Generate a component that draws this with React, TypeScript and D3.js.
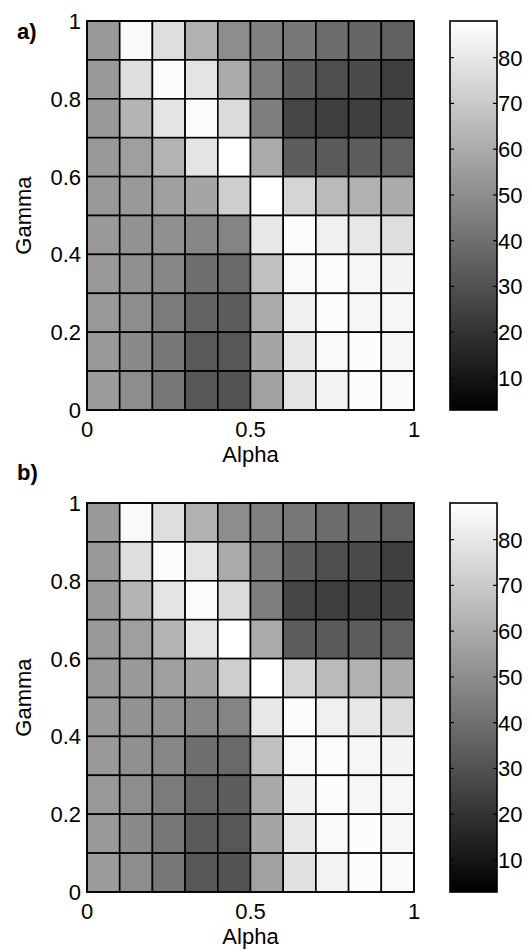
import React from "react";
import * as d3 from "d3";

// Bin left edges on both axes
const alphaBins = [0, 0.1, 0.2, 0.3, 0.4, 0.5, 0.6, 0.7, 0.8, 0.9];
const gammaBinsTopDown = [0.9, 0.8, 0.7, 0.6, 0.5, 0.4, 0.3, 0.2, 0.1, 0];

// Panel a) values, rows from gamma 0.9–1 (top) down to 0–0.1 (bottom)
const valuesA = [
  [54, 86, 77, 62, 50, 46, 43, 39, 37, 35],
  [54, 77, 87, 79, 60, 45, 34, 29, 28, 24],
  [54, 63, 79, 87, 76, 45, 26, 24, 24, 25],
  [54, 56, 63, 79, 88, 60, 34, 33, 34, 35],
  [54, 54, 56, 58, 72, 88, 74, 65, 62, 60],
  [54, 52, 51, 48, 47, 80, 87, 83, 80, 77],
  [54, 51, 48, 40, 38, 67, 86, 87, 85, 84],
  [54, 50, 44, 36, 34, 60, 83, 87, 85, 85],
  [54, 49, 43, 33, 32, 58, 80, 86, 87, 85],
  [55, 50, 43, 32, 31, 57, 79, 84, 87, 86],
];

// Panel b) values
const valuesB = [
  [54, 86, 77, 62, 50, 46, 43, 39, 37, 35],
  [54, 77, 87, 79, 60, 45, 34, 29, 28, 24],
  [54, 63, 79, 87, 76, 45, 26, 24, 24, 25],
  [54, 56, 63, 79, 88, 60, 34, 33, 34, 35],
  [54, 54, 56, 58, 72, 88, 74, 65, 62, 60],
  [54, 52, 51, 48, 47, 80, 87, 83, 80, 76],
  [54, 51, 48, 40, 38, 67, 86, 87, 85, 84],
  [54, 50, 44, 36, 34, 59, 83, 87, 85, 85],
  [54, 49, 43, 33, 32, 58, 80, 86, 87, 85],
  [55, 50, 43, 32, 31, 57, 78, 84, 87, 86],
];

const xTicks = [0, 0.5, 1];
const xTickLabels = ["0", "0.5", "1"];
const yTicks = [0, 0.2, 0.4, 0.6, 0.8, 1];
const yTickLabels = ["0", "0.2", "0.4", "0.6", "0.8", "1"];
const cbTicks = [10, 20, 30, 40, 50, 60, 70, 80];
const cbDomain = [3, 88];
const panelLabels = ["a)", "b)"];
const panels = [valuesA, valuesB];

const FONT = "'Liberation Sans', Arial, Helvetica, sans-serif";
const FS = 22;

const color = d3
  .scaleLinear<string>()
  .domain(cbDomain)
  .range(["#000000", "#ffffff"])
  .clamp(true);

function Panel({ values, top, label, labelY, idx }: { values: number[][]; top: number; label: string; labelY: number; idx: number }) {
  const left = 87;
  const right = 414;
  const bottom = top + 389;
  const x = d3.scaleLinear().domain([0, 1]).range([left, right]);
  const y = d3.scaleLinear().domain([0, 1]).range([bottom, top]);
  const cbX0 = 450;
  const cbX1 = 497;
  const cy = d3.scaleLinear().domain(cbDomain).range([bottom, top]);
  const gradId = `cbgrad${idx}`;
  const stops = d3.range(0, 1.0001, 0.1);
  return (
    <g>
      <text x={17} y={labelY} fontFamily={FONT} fontWeight="bold" fontSize={22} fill="#000">
        {label}
      </text>
      {values.map((row, ri) =>
        row.map((v, ci) => {
          const a = alphaBins[ci];
          const g = gammaBinsTopDown[ri];
          return (
            <rect
              key={`${ri}-${ci}`}
              x={x(a)}
              y={y(g + 0.1)}
              width={x(a + 0.1) - x(a)}
              height={y(g) - y(g + 0.1)}
              fill={color(v)}
              stroke="#000"
              strokeWidth={1.6}
            />
          );
        })
      )}
      <rect x={left} y={top} width={right - left} height={bottom - top} fill="none" stroke="#000" strokeWidth={1.6} />
      {yTicks.map((t, i) => (
        <text
          key={`yt${i}`}
          x={left - 6}
          y={y(t)}
          dy="0.36em"
          textAnchor="end"
          fontFamily={FONT}
          fontSize={FS}
          fill="#000"
        >
          {yTickLabels[i]}
        </text>
      ))}
      {xTicks.map((t, i) => (
        <text
          key={`xt${i}`}
          x={x(t)}
          y={bottom + 27}
          textAnchor="middle"
          fontFamily={FONT}
          fontSize={FS}
          fill="#000"
        >
          {xTickLabels[i]}
        </text>
      ))}
      <text x={(left + right) / 2} y={bottom + 52} textAnchor="middle" fontFamily={FONT} fontSize={FS} fill="#000">
        Alpha
      </text>
      <text
        transform={`translate(31,${(top + bottom) / 2}) rotate(-90)`}
        textAnchor="middle"
        fontFamily={FONT}
        fontSize={FS}
        fill="#000"
      >
        Gamma
      </text>
      <defs>
        <linearGradient id={gradId} x1="0" y1="1" x2="0" y2="0">
          {stops.map((s, i) => (
            <stop key={i} offset={s} stopColor={color(cbDomain[0] + s * (cbDomain[1] - cbDomain[0]))} />
          ))}
        </linearGradient>
      </defs>
      <rect x={cbX0} y={top} width={cbX1 - cbX0} height={bottom - top} fill={`url(#${gradId})`} stroke="#000" strokeWidth={1.6} />
      {cbTicks.map((t) => (
        <g key={`cb${t}`}>
          <line x1={cbX0} x2={cbX0 + 4} y1={cy(t)} y2={cy(t)} stroke="#000" strokeWidth={1.2} />
          <line x1={cbX1 - 4} x2={cbX1} y1={cy(t)} y2={cy(t)} stroke="#000" strokeWidth={1.2} />
          <text x={cbX1 + 1} y={cy(t)} dy="0.36em" fontFamily={FONT} fontSize={FS} fill="#000">
            {t}
          </text>
        </g>
      ))}
    </g>
  );
}

export default function App() {
  return (
    <svg width={529} height={950} style={{ position: "absolute", left: 0, top: 0, background: "#fff" }}>
      <rect width={529} height={950} fill="#fff" />
      {panels.map((vals, i) => (
        <Panel
          key={i}
          values={vals}
          top={i === 0 ? 21 : 503}
          label={panelLabels[i]}
          labelY={i === 0 ? 39 : 480}
          idx={i}
        />
      ))}
    </svg>
  );
}
